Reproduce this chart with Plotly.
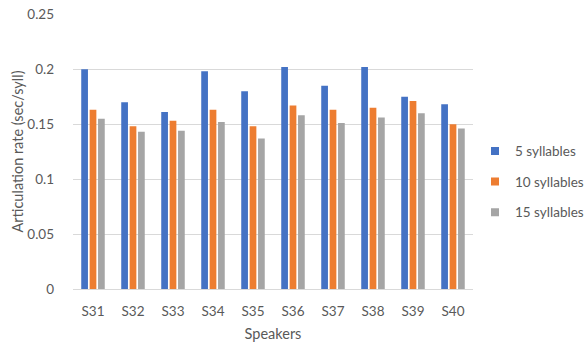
import plotly.graph_objects as go

speakers = ["S31", "S32", "S33", "S34", "S35", "S36", "S37", "S38", "S39", "S40"]
syll5 = [0.200, 0.170, 0.161, 0.198, 0.180, 0.202, 0.185, 0.202, 0.175, 0.168]
syll10 = [0.163, 0.148, 0.153, 0.163, 0.148, 0.167, 0.163, 0.165, 0.171, 0.150]
syll15 = [0.155, 0.143, 0.144, 0.152, 0.137, 0.158, 0.151, 0.156, 0.160, 0.146]
y_ticks = [0, 0.05, 0.1, 0.15, 0.2, 0.25]
y_tick_text = ["0", "0.05", "0.1", "0.15", "0.2", "0.25"]

series = [
    ("5 syllables", syll5, "#4472C4"),
    ("10 syllables", syll10, "#ED7D31"),
    ("15 syllables", syll15, "#A5A5A5"),
]

txt = "#595959"
font_family = "Lato, 'Open Sans', sans-serif"

fig = go.Figure()
for name, vals, color in series:
    fig.add_trace(go.Bar(x=speakers, y=vals, name=name, marker_color=color,
                         marker_line_width=0, showlegend=False))
# small square legend keys
for name, vals, color in series:
    fig.add_trace(go.Scatter(x=[None], y=[None], mode="markers", name=name,
                             legendgroup=name,
                             marker=dict(symbol="square", size=8, color=color)))

fig.update_layout(
    width=585, height=348,
    margin=dict(l=73, r=112, t=14, b=59, autoexpand=False),
    paper_bgcolor="white", plot_bgcolor="white",
    barmode="group", bargap=0.37, bargroupgap=0.2,
    font=dict(family=font_family, color=txt, size=12),
    legend=dict(x=1.005, y=0.39, xanchor="left", yanchor="middle",
                font=dict(size=13.5, color=txt), itemwidth=30,
                tracegroupgap=10, traceorder="grouped"),
    xaxis=dict(title=dict(text="Speakers", font=dict(size=14.5, color=txt), standoff=10),
               tickfont=dict(size=13.5, color=txt), showline=True,
               linecolor="#D9D9D9", linewidth=1, ticks="", ticklabelstandoff=10,
               automargin=False),
    yaxis=dict(title=dict(text="Articulation rate (sec/syll)", font=dict(size=14.5, color=txt),
                          standoff=0),
               range=[0, 0.2502], tickvals=y_ticks, ticktext=y_tick_text,
               tickfont=dict(size=13.5, color=txt), gridcolor="#D9D9D9",
               gridwidth=1, zeroline=False, showline=False, ticks="",
               ticklabelstandoff=18, automargin=False),
)

fig.write_html("out.html")
